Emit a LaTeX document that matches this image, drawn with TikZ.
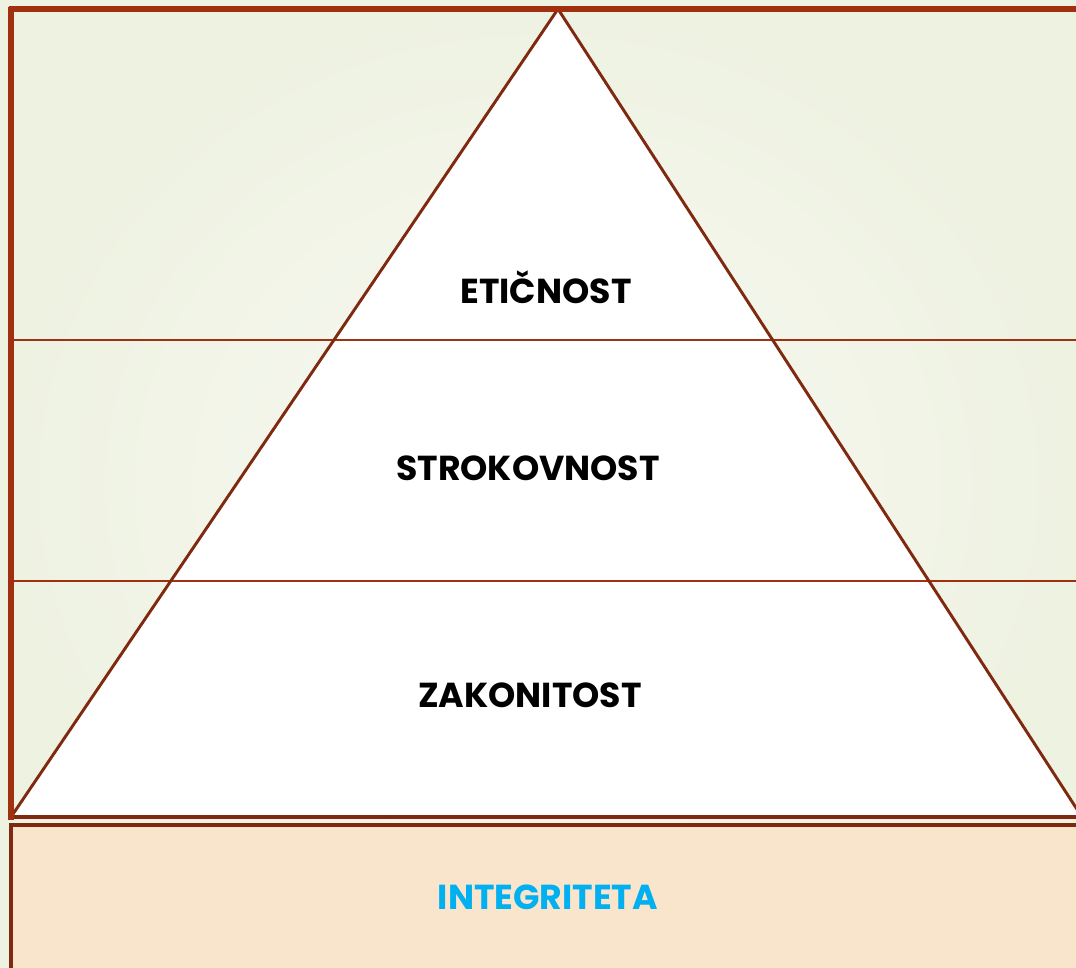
\documentclass[tikz,border=0pt]{standalone}
\usepackage{fontspec}
\setmainfont{Poppins}
\usetikzlibrary{shadings}
\definecolor{bgouter}{HTML}{EEF2E1}
\definecolor{bginner}{HTML}{F8F9F3}
\definecolor{frame}{HTML}{A0300F}
\definecolor{tri}{HTML}{7F2A10}
\definecolor{peach}{HTML}{F9E4CC}
\definecolor{cyanish}{HTML}{00B0F0}
\tikzset{
  lbl/.style={font=\fontsize{26}{30}\selectfont\bfseries, text=black, inner sep=0pt},
  divline/.style={draw=frame, line width=1.1pt},
}
\begin{document}
\begin{tikzpicture}[x=0.75pt,y=-0.75pt]
\useasboundingbox (0,0) rectangle (1076,968);
\shade[inner color=bginner, outer color=bgouter] (0,0) rectangle (1076,968);
% coordinates
\coordinate (apex) at (558,9);
\coordinate (bl) at (11,817);
\coordinate (br) at (1082,817);
% triangle
\fill[white] (apex) -- (bl) -- (br) -- cycle;
% divider lines
\coordinate (d1l) at (11,340); \coordinate (d1r) at (1076,340);
\coordinate (d2l) at (11,581); \coordinate (d2r) at (1076,581);
\draw[divline] (d1l) -- (d1r);
\draw[divline] (d2l) -- (d2r);
\begin{scope}
\clip (0,0) rectangle (1076,968);
\draw[tri, line width=2.2pt, line join=miter] (bl) -- (apex) -- (br);
\draw[tri, line width=2.4pt] (bl) -- (br);
% bottom box
\draw[tri, line width=2.4pt, fill=peach] (11,825) rectangle (1090,980);
\end{scope}
% frame
\coordinate (ftl) at (11,9);
\coordinate (ftr) at (1076,9);
\coordinate (fbl) at (11,820);
\draw[frame, line width=4.6pt] (fbl) -- (11,6.5);
\draw[frame, line width=4.6pt] (8.5,9) -- (ftr);
% labels
\node[lbl] (etic) at (546,287) {ETIČNOST};
\node[lbl] (strok) at (528,468) {STROKOVNOST};
\node[lbl] (zak) at (530,695) {ZAKONITOST};
\node[lbl, text=cyanish] (integ) at (548,897) {INTEGRITETA};
\end{tikzpicture}
\end{document}
